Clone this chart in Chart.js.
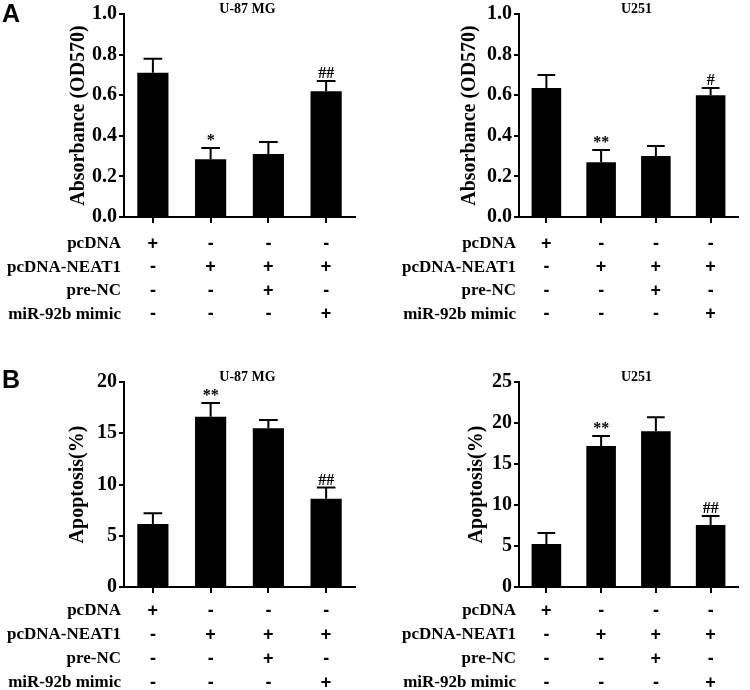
<!DOCTYPE html>
<html lang="en">
<head>
<meta charset="UTF-8">
<title>NEAT1 / miR-92b</title>
<script src="https://cdn.jsdelivr.net/npm/chart.js@4.4.1/dist/chart.umd.min.js"></script>
<style>
  body { margin: 0; background: #fff; }
  #wrap { position: relative; width: 750px; height: 690px; }
  canvas { position: absolute; }
</style>
</head>
<body>
<div id="wrap">
  <canvas id="c1" width="375" height="345" style="left:0;top:0"></canvas>
  <canvas id="c2" width="375" height="345" style="left:375px;top:0"></canvas>
  <canvas id="c3" width="375" height="345" style="left:0;top:345px"></canvas>
  <canvas id="c4" width="375" height="345" style="left:375px;top:345px"></canvas>
</div>
<script>
// conditions and the +/- table under each chart
const conditions = ['pcDNA', 'pcDNA-NEAT1', 'pcDNA-NEAT1 + pre-NC', 'pcDNA-NEAT1 + miR-92b mimic'];
const rowLabels = ['pcDNA', 'pcDNA-NEAT1', 'pre-NC', 'miR-92b mimic'];
const rowSigns = [
  ['+', '-', '-', '-'],
  ['-', '+', '+', '+'],
  ['-', '-', '+', '-'],
  ['-', '-', '-', '+']
];

// A: absorbance (OD570)
const absU87 = [0.71, 0.285, 0.31, 0.62];
const absU87Err = [0.07, 0.055, 0.06, 0.05];
const absU87Marks = ['', '*', '', '##'];
const absU251 = [0.635, 0.27, 0.30, 0.60];
const absU251Err = [0.065, 0.06, 0.05, 0.035];
const absU251Marks = ['', '**', '', '#'];
const absTicks = [0, 0.2, 0.4, 0.6, 0.8, 1.0];

// B: apoptosis (%)
const apoU87 = [6.15, 16.6, 15.5, 8.6];
const apoU87Err = [1.05, 1.35, 0.8, 1.1];
const apoU87Marks = ['', '**', '', '##'];
const apoU251 = [5.25, 17.2, 19.0, 7.55];
const apoU251Err = [1.35, 1.2, 1.7, 1.1];
const apoU251Marks = ['', '**', '', '##'];
const apoU87Ticks = [0, 5, 10, 15, 20];
const apoU251Ticks = [0, 5, 10, 15, 20, 25];

const SERIF = '"Liberation Serif", "Times New Roman", serif';

// draws error bars, significance marks, cell line title, panel letter and the table
const extras = {
  id: 'extras',
  afterDraw(chart, args, o) {
    const ctx = chart.ctx;
    const xs = chart.scales.x, ys = chart.scales.y;
    const area = chart.chartArea;
    const meta = chart.getDatasetMeta(0);
    ctx.save();
    ctx.strokeStyle = '#000';
    ctx.fillStyle = '#000';
    ctx.lineWidth = 2;
    meta.data.forEach((bar, i) => {
      const v = chart.data.datasets[0].data[i];
      const top = ys.getPixelForValue(v + o.err[i]);
      const half = bar.width * 0.3;
      ctx.beginPath();
      ctx.moveTo(bar.x, bar.y);
      ctx.lineTo(bar.x, top);
      ctx.moveTo(bar.x - half, top);
      ctx.lineTo(bar.x + half, top);
      ctx.stroke();
      if (o.marks[i]) {
        ctx.font = 'bold 16px ' + SERIF;
        ctx.textAlign = 'center';
        ctx.textBaseline = 'alphabetic';
        ctx.fillText(o.marks[i], bar.x, top - 3);
      }
    });
    // cell line name
    ctx.font = 'bold 14px ' + SERIF;
    ctx.textAlign = 'center';
    ctx.textBaseline = 'middle';
    ctx.fillText(o.title, (area.left + area.right) / 2 + 8, area.top - 5);
    // table rows
    rowLabels.forEach((lab, r) => {
      const y = area.bottom + o.rowTop + r * o.rowGap;
      ctx.font = 'bold 17px ' + SERIF;
      ctx.textAlign = 'right';
      ctx.fillText(lab, area.left - 3, y);
      ctx.font = 'bold 18px "Liberation Sans", Arial, sans-serif';
      ctx.textAlign = 'center';
      rowSigns[r].forEach((s, i) => {
        ctx.fillText(s, xs.getPixelForValue(i), y);
      });
    });
    if (o.letter) {
      ctx.font = 'bold 25px "Liberation Sans", Arial, sans-serif';
      ctx.textAlign = 'left';
      ctx.textBaseline = 'alphabetic';
      ctx.fillText(o.letter, 2, o.letterY);
    }
    ctx.restore();
  }
};

function makePanel(id, values, err, marks, ticks, yTitle, title, letter, layout) {
  const max = ticks[ticks.length - 1];
  const step = ticks[1] - ticks[0];
  new Chart(document.getElementById(id), {
    type: 'bar',
    data: {
      labels: conditions,
      datasets: [{
        data: values,
        backgroundColor: '#000',
        borderWidth: 0,
        barPercentage: 0.54,
        categoryPercentage: 1
      }]
    },
    options: {
      responsive: false,
      animation: false,
      devicePixelRatio: 1,
      layout: { padding: { top: layout.top, right: layout.right, left: 0, bottom: 0 } },
      plugins: {
        legend: { display: false },
        tooltip: { enabled: false },
        extras: {
          err: err, marks: marks, title: title, letter: letter, letterY: layout.letterY,
          rowTop: layout.rowTop, rowGap: layout.rowGap
        }
      },
      scales: {
        x: {
          grid: { offset: false, drawOnChartArea: false, drawTicks: true, tickLength: 6, color: '#000', lineWidth: 2 },
          border: { color: '#000', width: 2 },
          ticks: { display: false },
          afterFit(s) { s.height = layout.bottom; }
        },
        y: {
          min: 0,
          max: max,
          grid: { drawOnChartArea: false, drawTicks: true, tickLength: 5, color: '#000', lineWidth: 2 },
          border: { color: '#000', width: 2 },
          ticks: {
            stepSize: step,
            padding: 2,
            color: '#000',
            font: { family: SERIF, size: 20, weight: 'bold' },
            callback: v => max <= 1 ? Number(v).toFixed(1) : v
          },
          title: {
            display: true,
            text: yTitle,
            color: '#000',
            font: { family: SERIF, size: 20, weight: 'bold' },
            padding: { top: layout.titlePad, bottom: 0 }
          },
          afterFit(s) { s.width = layout.axisX; }
        }
      }
    },
    plugins: [extras]
  });
}

makePanel('c1', absU87, absU87Err, absU87Marks, absTicks, 'Absorbance (OD570)', 'U-87 MG', 'A',
  { top: 13, right: 20, bottom: 128, axisX: 124, titlePad: 67, rowTop: 27, rowGap: 23.5, letterY: 22 });
makePanel('c2', absU251, absU251Err, absU251Marks, absTicks, 'Absorbance (OD570)', 'U251', '',
  { top: 13, right: 12, bottom: 128, axisX: 144, titlePad: 83, rowTop: 27, rowGap: 23.5, letterY: 0 });
makePanel('c3', apoU87, apoU87Err, apoU87Marks, apoU87Ticks, 'Apoptosis(%)', 'U-87 MG', 'B',
  { top: 37, right: 20, bottom: 103, axisX: 124, titlePad: 66, rowTop: 24, rowGap: 24, letterY: 43 });
makePanel('c4', apoU251, apoU251Err, apoU251Marks, apoU251Ticks, 'Apoptosis(%)', 'U251', '',
  { top: 37, right: 12, bottom: 103, axisX: 144, titlePad: 90, rowTop: 24, rowGap: 24, letterY: 0 });
</script>
</body>
</html>
